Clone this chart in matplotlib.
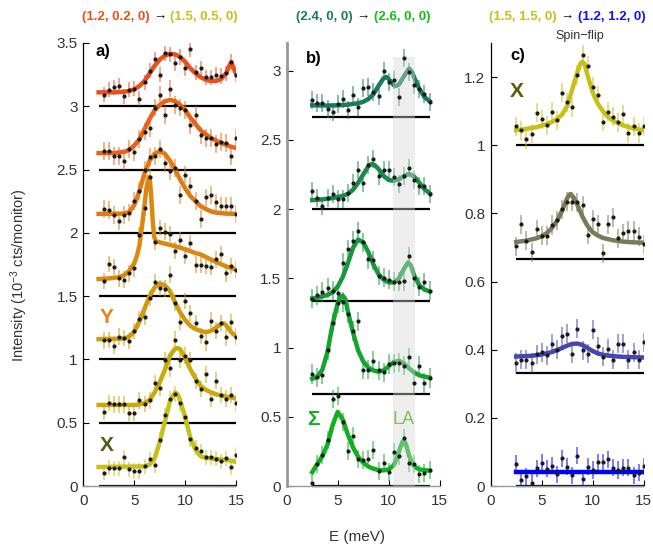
import matplotlib
matplotlib.use('Agg')
import matplotlib.pyplot as plt
from matplotlib.ticker import FormatStrFormatter

plt.rcParams['font.family'] = ['Liberation Sans', 'DejaVu Sans']
plt.rcParams['mathtext.fontset'] = 'custom'
plt.rcParams['mathtext.rm'] = 'Liberation Sans'
plt.rcParams['mathtext.default'] = 'regular'

# ---------------- panel a: (1.2,0.2,0) -> (1.5,0.5,0) ----------------
E_A = [2.0, 2.5, 3.0, 3.5, 4.0, 4.5, 5.0, 5.5, 6.0, 6.5, 7.0, 7.5, 8.0, 8.5,
       9.0, 9.5, 10.0, 10.5, 11.0, 11.5, 12.0, 12.5, 13.0, 13.5, 14.0, 14.5, 15.0]
A1 = [3.09, 3.13, 3.15, 3.16, 3.08, 3.13, 3.14, 3.06, 3.19, 3.28, 3.37, 3.25, 3.42, 3.41,
      3.34, 3.39, 3.30, 3.45, 3.27, 3.30, 3.23, 3.23, 3.25, 3.24, 3.26, 3.35, 3.25]
A2 = [2.645, 2.645, 2.61, 2.61, 2.57, 2.66, 2.64, 2.74, 2.80, 2.83, 2.99, 3.09, 2.93, 3.14,
      3.01, 2.99, 2.97, 2.85, 2.93, 2.77, 2.75, 2.75, 2.70, 2.72, 2.71, 2.61, 2.75]
A3 = [2.19, 2.18, 2.14, 2.09, 2.14, 2.16, 2.25, 2.33, 2.50, 2.60, 2.61, 2.66, 2.55, 2.49,
      2.51, 2.30, 2.46, 2.37, 2.25, 2.11, 2.28, 2.30, 2.24, 2.21, 2.21, 2.21, 2.15]
A4 = [1.62, 1.755, 1.73, 1.64, 1.63, 1.68, 1.72, 1.98, 2.20, 2.44, 1.93, 2.04, 2.01, 1.99,
      1.86, 1.94, 1.82, 1.92, 1.75, 1.75, 1.74, 1.73, 1.79, 1.83, 1.68, 1.74, 1.71]
A5 = [1.15, 1.155, 1.11, 1.18, 1.17, 1.145, 1.225, 1.32, 1.335, 1.486, 1.61, 1.565, 1.56, 1.67,
      1.445, 1.295, 1.46, 1.365, 1.286, 1.186, 1.134, 1.307, 1.228, 1.286, 1.175, 1.294, 1.18]
A6 = [0.583, 0.655, 0.644, 0.644, 0.644, 0.576, 0.576, 0.676, 0.65, 0.676, 0.812, 0.775, 0.996, 0.93,
      1.157, 0.996, 1.03, 0.996, 0.828, 0.768, 0.881, 0.689, 0.833, 0.72, 0.69, 0.72, 0.655]
A7 = [0.105, 0.144, 0.141, 0.141, 0.228, 0.131, 0.118, 0.118, 0.155, 0.21, 0.162, 0.367, 0.557, 0.688,
      0.727, 0.654, 0.543, 0.372, 0.301, 0.275, 0.228, 0.228, 0.215, 0.194, 0.22, 0.15, 0.246]
A_ERR = [0.06, 0.07, 0.07, 0.065, 0.065, 0.065, 0.06]

# fitted curves
A1_FX = [1.5, 3, 4, 4.5, 5, 5.5, 6, 6.5, 7, 7.5, 8, 8.5, 9, 9.5, 10, 10.5, 11, 11.5, 12, 12.5,
         13, 13.5, 14, 14.25, 14.5, 14.75, 15]
A1_FY = [3.11, 3.11, 3.115, 3.12, 3.135, 3.16, 3.20, 3.26, 3.32, 3.37, 3.40, 3.415, 3.41, 3.39,
         3.35, 3.30, 3.26, 3.23, 3.21, 3.20, 3.20, 3.215, 3.26, 3.31, 3.35, 3.30, 3.25]
A2_FX = [1.5, 3, 4, 4.5, 5, 5.5, 6, 6.5, 7, 7.5, 8, 8.5, 9, 9.5, 10, 10.5, 11, 11.5, 12, 12.5,
         13, 13.5, 14, 14.5, 15]
A2_FY = [2.63, 2.63, 2.64, 2.655, 2.69, 2.74, 2.82, 2.90, 2.97, 3.01, 3.04, 3.05, 3.04, 3.01,
         2.97, 2.91, 2.86, 2.81, 2.78, 2.75, 2.73, 2.71, 2.695, 2.68, 2.67]
A3_FX = [1.5, 4, 4.5, 5, 5.5, 6, 6.5, 7, 7.5, 8, 8.5, 9, 9.5, 10, 10.5, 11, 11.5, 12, 12.5, 13, 14, 15]
A3_FY = [2.15, 2.152, 2.165, 2.22, 2.33, 2.47, 2.57, 2.625, 2.645, 2.625, 2.57, 2.50, 2.42, 2.35,
         2.29, 2.25, 2.21, 2.19, 2.17, 2.16, 2.152, 2.15]
A4_FX = [1.5, 2.5, 3.5, 4, 4.5, 5, 5.3, 5.5, 5.75, 6, 6.2, 6.4, 6.5, 6.65, 6.8, 6.95, 7.1, 7.5,
         8, 9, 10, 11, 11.5, 12, 13, 14, 15]
A4_FY = [1.635, 1.64, 1.65, 1.665, 1.70, 1.76, 1.83, 1.90, 2.05, 2.22, 2.36, 2.44, 2.44, 2.30,
         2.10, 1.97, 1.935, 1.925, 1.915, 1.895, 1.87, 1.84, 1.83, 1.81, 1.77, 1.735, 1.71]
A5_FX = [1.5, 4, 4.5, 5, 5.5, 6, 6.5, 7, 7.5, 8, 8.5, 9, 9.5, 10, 10.5, 11, 11.5, 12, 12.5, 13,
         13.5, 13.75, 14, 14.5, 15]
A5_FY = [1.16, 1.165, 1.18, 1.22, 1.30, 1.40, 1.50, 1.57, 1.60, 1.585, 1.54, 1.45, 1.37, 1.31,
         1.265, 1.24, 1.225, 1.215, 1.225, 1.25, 1.28, 1.285, 1.27, 1.215, 1.18]
A6_FX = [1.5, 5, 5.5, 6, 6.5, 7, 7.5, 8, 8.5, 9, 9.25, 9.5, 10, 10.5, 11, 11.5, 12, 12.5, 13,
         13.5, 14, 14.5, 15]
A6_FY = [0.64, 0.64, 0.645, 0.655, 0.68, 0.74, 0.82, 0.92, 1.03, 1.085, 1.09, 1.08, 1.01, 0.92,
         0.85, 0.79, 0.76, 0.74, 0.725, 0.715, 0.705, 0.70, 0.69]
A7_FX = [1.5, 6, 6.5, 7, 7.5, 8, 8.5, 9, 9.25, 9.5, 10, 10.5, 11, 11.5, 12, 12.5, 13, 13.5, 14, 14.5, 15]
A7_FY = [0.15, 0.155, 0.17, 0.22, 0.35, 0.51, 0.67, 0.74, 0.725, 0.675, 0.54, 0.38, 0.285, 0.235,
         0.222, 0.218, 0.214, 0.21, 0.205, 0.20, 0.19]
A_COLORS = ['#E8501E', '#E5641A', '#E07A14', '#D88A10', '#D09A0C', '#C8AA0A', '#C8C018']
A_BASE = [0, 0.5, 1.0, 1.5, 2.0, 2.5, 3.0]

# ---------------- panel b: (2.4,0,0) -> (2.6,0,0) ----------------
E_B = [2.5, 3.0, 3.5, 4.0, 4.5, 5.0, 5.5, 6.0, 6.5, 7.0, 7.5, 8.0, 8.5, 9.0,
       9.5, 10.0, 10.5, 11.0, 11.5, 12.0, 12.5, 13.0, 13.5, 14.0]
B1 = [2.788, 2.764, 2.764, 2.723, 2.704, 2.759, 2.795, 2.716, 2.823, 2.735, 2.873, 2.885,
      2.849, 2.818, 3.0, 2.915, 2.932, 2.811, 3.09, 2.987, 2.896, 2.871, 2.83, 2.776]
B2 = [2.13, 2.08, 2.02, 2.08, 2.11, 2.075, 2.075, 2.12, 2.19, 2.28, 2.19, 2.32, 2.36, 2.24,
      2.28, 2.28, 2.235, 2.18, 2.24, 2.30, 2.21, 2.165, 2.165, 2.11]
B3 = [1.353, 1.377, 1.40, 1.43, 1.41, 1.394, 1.61, 1.71, 1.77, 1.84, 1.76, 1.64, 1.63, 1.52,
      1.505, 1.49, 1.475, 1.475, 1.48, 1.66, 1.505, 1.44, 1.47, 1.41]
B4 = [0.81, 0.785, 0.805, 0.98, 1.18, 1.32, 1.33, 1.245, 1.12, 1.19, 0.84, 0.84, 0.905, 0.835,
      0.82, 0.88, 0.885, 0.89, 0.87, 0.93, 0.745, 0.87, 0.745, 0.78]
B5 = [0.024, 0.161, 0.221, 0.33, 0.625, 0.651, 0.459, 0.252, 0.36, 0.192, 0.188, 0.192, 0.26,
      0.108, 0.168, 0.103, 0.247, 0.216, 0.344, 0.168, 0.158, 0.086, 0.096, 0.115]
B_ERR = [0.065, 0.065, 0.07, 0.07, 0.065]

B1_FX = [2.5, 4, 5, 6, 7, 7.5, 8, 8.5, 9, 9.5, 9.75, 10, 10.5, 10.75, 11, 11.5, 12, 12.3, 12.5,
         13, 13.5, 14]
B1_FY = [2.75, 2.748, 2.75, 2.755, 2.765, 2.775, 2.795, 2.83, 2.89, 2.945, 2.955, 2.94, 2.895,
         2.89, 2.90, 2.96, 3.015, 2.99, 2.95, 2.87, 2.81, 2.78]
B2_FX = [2.5, 3.5, 4.5, 5.5, 6, 6.5, 7, 7.5, 8, 8.3, 8.6, 9, 9.5, 10, 10.5, 11, 11.5, 12, 12.5,
         13, 13.5, 14]
B2_FY = [2.065, 2.07, 2.08, 2.095, 2.11, 2.14, 2.19, 2.25, 2.31, 2.325, 2.32, 2.29, 2.24, 2.21,
         2.205, 2.215, 2.24, 2.255, 2.235, 2.19, 2.145, 2.115]
B3_FX = [2.5, 3, 3.5, 4, 4.5, 5, 5.5, 6, 6.5, 7, 7.5, 8, 8.5, 9, 9.5, 10, 10.5, 11, 11.5, 11.9,
         12.2, 12.5, 13, 13.5, 14]
B3_FY = [1.355, 1.36, 1.37, 1.38, 1.40, 1.44, 1.51, 1.61, 1.72, 1.78, 1.76, 1.69, 1.60, 1.53,
         1.49, 1.47, 1.47, 1.50, 1.57, 1.615, 1.59, 1.52, 1.45, 1.42, 1.405]
B4_FX = [2.5, 2.75, 3, 3.5, 4, 4.5, 5, 5.25, 5.5, 5.75, 6, 6.5, 7, 7.5, 8, 8.5, 9, 9.5, 10,
         10.5, 11, 11.5, 12, 12.5, 13, 13.5, 14]
B4_FY = [0.775, 0.78, 0.79, 0.84, 0.97, 1.17, 1.32, 1.365, 1.375, 1.35, 1.26, 1.11, 0.98, 0.90,
         0.855, 0.835, 0.825, 0.835, 0.865, 0.895, 0.905, 0.885, 0.85, 0.82, 0.80, 0.79, 0.783]
B5_FX = [2.5, 3, 3.5, 4, 4.5, 5, 5.5, 6, 6.5, 7, 7.5, 8, 8.5, 9, 9.5, 10, 10.5, 10.8, 11.1,
         11.35, 11.5, 11.7, 12, 12.3, 12.6, 13, 13.5, 14]
B5_FY = [0.10, 0.16, 0.215, 0.30, 0.44, 0.535, 0.48, 0.37, 0.28, 0.21, 0.17, 0.14, 0.125, 0.115,
         0.113, 0.12, 0.15, 0.20, 0.27, 0.32, 0.33, 0.30, 0.22, 0.16, 0.135, 0.12, 0.115, 0.11]
B_COLORS = ['#1A7A5A', '#1A8A4A', '#16983C', '#12A42E', '#10B020']
B_BASE = [0, 0.667, 1.333, 2.0, 2.667]
LA_BAND = (10.4, 12.6, 3.1)

# ---------------- panel c: (1.5,1.5,0) -> (1.2,1.2,0) ----------------
E_C = [2.5, 3.0, 3.5, 4.0, 4.5, 5.0, 5.5, 6.0, 6.5, 7.0, 7.5, 8.0, 8.5, 9.0,
       9.5, 10.0, 10.5, 11.0, 11.5, 12.0, 12.5, 13.0, 13.5, 14.0, 14.5, 15.0]
C1 = [1.056, 1.044, 1.017, 1.034, 1.095, 1.076, 1.058, 1.098, 1.073, 1.154, 1.126, 1.112, 1.206,
      1.266, 1.233, 1.171, 1.146, 1.069, 1.098, 1.083, 1.067, 1.091, 1.036, 1.056, 1.036, 1.056]
C2 = [0.703, 0.768, 0.72, 0.686, 0.754, 0.734, 0.734, 0.766, 0.78, 0.812, 0.834, 0.834, 0.832,
      0.824, 0.737, 0.783, 0.768, 0.683, 0.768, 0.788, 0.727, 0.741, 0.749, 0.749, 0.732, 0.71]
C3 = [0.361, 0.371, 0.371, 0.361, 0.386, 0.393, 0.383, 0.418, 0.40, 0.44, 0.447, 0.388, 0.461,
      0.398, 0.388, 0.458, 0.41, 0.38, 0.403, 0.371, 0.418, 0.418, 0.371, 0.393, 0.371, 0.422]
C4 = [0.066, 0.019, 0.029, 0.010, 0.052, 0.068, 0.05, 0.06, 0.035, 0.081, 0.056, 0.032, 0.089,
      0.022, 0.056, 0.047, 0.07, 0.07, 0.078, 0.054, 0.047, 0.054, 0.054, 0.032, 0.039, 0.058]
C_ERR = [0.028, 0.028, 0.028, 0.025]

C1_FX = [2.5, 3.5, 4.5, 5.5, 6, 6.5, 7, 7.5, 8, 8.5, 8.8, 9, 9.2, 9.5, 10, 10.5, 11, 11.5, 12, 13, 14, 15]
C1_FY = [1.044, 1.048, 1.053, 1.062, 1.068, 1.077, 1.09, 1.115, 1.165, 1.215, 1.24, 1.245, 1.238,
         1.205, 1.155, 1.122, 1.10, 1.083, 1.072, 1.058, 1.049, 1.044]
C2_FX = [2.5, 3.5, 4.5, 5, 5.5, 6, 6.5, 7, 7.5, 7.8, 8.1, 8.5, 9, 9.5, 10, 10.5, 11, 12, 13, 14, 15]
C2_FY = [0.716, 0.72, 0.727, 0.733, 0.742, 0.757, 0.778, 0.808, 0.845, 0.857, 0.848, 0.825, 0.79,
         0.763, 0.745, 0.735, 0.728, 0.721, 0.717, 0.715, 0.714]
C3_FX = [2.5, 4, 5, 6, 7, 7.5, 8, 8.5, 9, 9.5, 10, 10.5, 11, 12, 13, 14, 15]
C3_FY = [0.38, 0.382, 0.386, 0.393, 0.405, 0.412, 0.417, 0.418, 0.414, 0.405, 0.396, 0.389,
         0.385, 0.381, 0.379, 0.378, 0.377]
C4_FX = [2.5, 15]
C4_FY = [0.042, 0.042]
C_COLORS = ['#C8C018', '#7A7A5A', '#4646B0', '#0000FF']
C_BASE = [0, 0.333, 0.667, 1.0]


def draw_panel(ax, e, series, errs, fits, colors, bases, base_x, ymax, yticks, spine_col, spine_w):
    for b in bases:
        ax.plot(base_x, [b, b], color='black', lw=1.6, zorder=1, clip_on=False,
                solid_capstyle='butt')
    for y, err, (fx, fy), c in zip(series, errs, fits, colors):
        ax.errorbar(e, y, yerr=err, fmt='none', ecolor=c, alpha=0.6, elinewidth=1.2,
                    capsize=0, zorder=2)
        ax.plot(fx, fy, color=c, lw=3.2, zorder=3, solid_joinstyle='round')
        ax.plot(e, y, 'o', ms=2.0, color='#1a1a1a', zorder=5)
    ax.set_xlim(0, 15)
    ax.set_ylim(0, ymax)
    ax.set_xticks([0, 5, 10, 15])
    ax.set_yticks(yticks)
    ax.yaxis.set_major_formatter(FormatStrFormatter('%g'))
    for s in ['top', 'right']:
        ax.spines[s].set_visible(False)
    ax.spines['bottom'].set_color('#999999')
    ax.spines['bottom'].set_linewidth(1.0)
    ax.spines['left'].set_color(spine_col)
    ax.spines['left'].set_linewidth(spine_w)
    ax.tick_params(direction='in', length=4, width=0.8, labelsize=11, labelcolor='#333333')
    ax.tick_params(axis='x', pad=6)
    ax.tick_params(axis='y', pad=4)
    ax.patch.set_alpha(0)


fig = plt.figure(figsize=(6.53, 5.46), dpi=100)
bottom, height, width = 60 / 546, 443 / 546, 153 / 653
ax_a = fig.add_axes([83.3 / 653, bottom, width, height])
ax_b = fig.add_axes([286.7 / 653, bottom, width, height])
ax_c = fig.add_axes([490.7 / 653, bottom, width, height])

draw_panel(ax_a, E_A, [A1, A2, A3, A4, A5, A6, A7], A_ERR,
           [(A1_FX, A1_FY), (A2_FX, A2_FY), (A3_FX, A3_FY), (A4_FX, A4_FY),
            (A5_FX, A5_FY), (A6_FX, A6_FY), (A7_FX, A7_FY)],
           A_COLORS, A_BASE, [1.5, 15], 3.5, [0, 0.5, 1, 1.5, 2, 2.5, 3, 3.5], 'black', 0.9)
draw_panel(ax_b, E_B, [B1, B2, B3, B4, B5], B_ERR,
           [(B1_FX, B1_FY), (B2_FX, B2_FY), (B3_FX, B3_FY), (B4_FX, B4_FY), (B5_FX, B5_FY)],
           B_COLORS, B_BASE, [2.5, 14], 3.2, [0, 0.5, 1, 1.5, 2, 2.5, 3], '#999999', 2.0)
draw_panel(ax_c, E_C, [C1, C2, C3, C4], C_ERR,
           [(C1_FX, C1_FY), (C2_FX, C2_FY), (C3_FX, C3_FY), (C4_FX, C4_FY)],
           C_COLORS, C_BASE, [2.5, 15], 1.3, [0, 0.2, 0.4, 0.6, 0.8, 1.0, 1.2], 'black', 0.9)

# LA band
ax_b.fill_between([LA_BAND[0], LA_BAND[1]], 0, LA_BAND[2], color='#d8d8d8', alpha=0.42,
                  lw=0, zorder=4)

# panel labels and annotations
ax_a.text(0.131, 0.981, 'a)', transform=ax_a.transAxes, fontsize=12, fontweight='bold',
          ha='center', va='center')
ax_b.text(0.174, 0.964, 'b)', transform=ax_b.transAxes, fontsize=12, fontweight='bold',
          ha='center', va='center')
ax_c.text(0.18, 0.972, 'c)', transform=ax_c.transAxes, fontsize=12, fontweight='bold',
          ha='center', va='center')
ax_a.text(2.3, 1.33, 'Y', color='#E8801A', fontsize=15, fontweight='bold', ha='center', va='center')
ax_a.text(2.3, 0.32, 'X', color='#5A5A10', fontsize=15, fontweight='bold', ha='center', va='center')
ax_b.text(2.6, 0.48, 'Σ', color='#10B020', fontsize=15, fontweight='bold', ha='center', va='center')
ax_b.text(11.5, 0.48, 'LA', color='#7DBE5A', fontsize=13, ha='center', va='center', zorder=6)
ax_c.text(2.6, 1.159, 'X', color='#5A5A10', fontsize=15, fontweight='bold', ha='center', va='center')
fig.text(580 / 653, 1 - 36 / 546, 'Spin−flip', fontsize=9, color='#333333', ha='center', va='center')

fig.text(19 / 653, 1 - 275 / 546, 'Intensity (10$^{-3}$ cts/monitor)', rotation=90, fontsize=10.5,
         color='#333333', ha='center', va='center')
fig.text(357 / 653, 1 - 537 / 546, 'E (meV)', fontsize=11, color='#333333', ha='center', va='center')

# coloured titles
renderer = fig.canvas.get_renderer()
fig_w = fig.get_figwidth() * fig.dpi


def colored_title(xc, parts, y=1 - 17 / 546, gap=4):
    texts = []
    for s, c, w in parts:
        t = fig.text(0, y, s, color=c, fontweight=w, fontsize=9.5, ha='left', va='center')
        texts.append(t)
    widths = [t.get_window_extent(renderer).width for t in texts]
    total = sum(widths) + gap * (len(texts) - 1)
    x = xc * fig_w - total / 2
    for t, wd in zip(texts, widths):
        t.set_x(x / fig_w)
        x += wd + gap


colored_title((83.3 + 76.5) / 653, [('(1.2, 0.2, 0)', '#E8501E', 'bold'), ('→', 'black', 'normal'),
                                    ('(1.5, 0.5, 0)', '#C8C018', 'bold')])
colored_title((286.7 + 76.5) / 653, [('(2.4, 0, 0)', '#1A7A5A', 'bold'), ('→', 'black', 'normal'),
                                     ('(2.6, 0, 0)', '#10C010', 'bold')])
colored_title((490.7 + 76.5) / 653, [('(1.5, 1.5, 0)', '#C8C018', 'bold'), ('→', 'black', 'normal'),
                                     ('(1.2, 1.2, 0)', '#1010FF', 'bold')])

fig.savefig('out.png', dpi=100)
